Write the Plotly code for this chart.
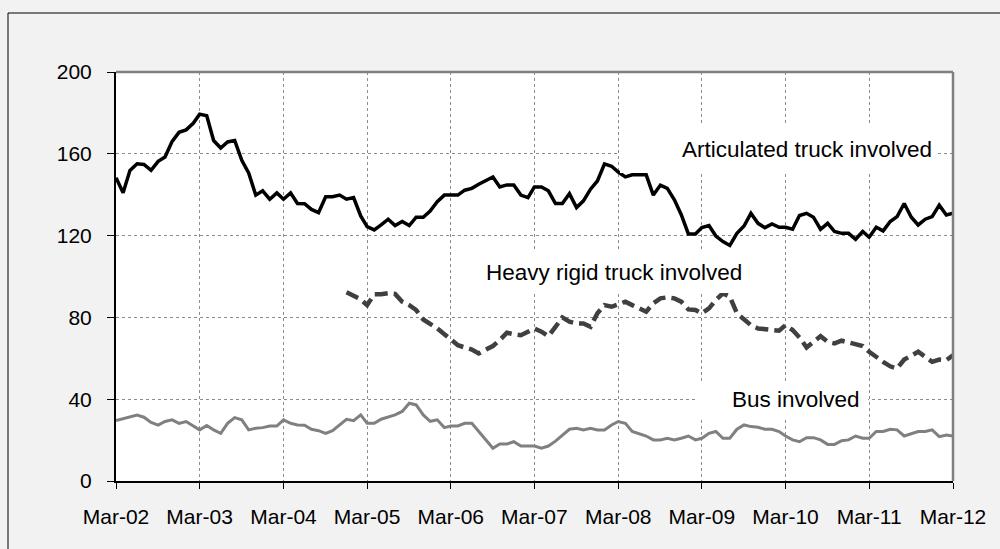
import pandas as pd
import plotly.graph_objects as go

months = pd.date_range("2002-03-01", "2012-03-01", freq="MS")

articulated = [
    148.3, 140.9, 151.9, 155.1, 154.8, 151.9, 156.3, 158.4, 166.1, 170.5, 171.7, 174.9,
    179.4, 178.6, 166.5, 162.8, 165.8, 166.5, 156.8, 150.6, 139.8, 141.9, 137.8, 140.9,
    137.8, 140.9, 135.7, 135.6, 132.8, 131.2, 139.0, 139.0, 139.8, 137.8, 138.6, 129.6,
    124.4, 122.8, 125.2, 128.0, 124.9, 126.9, 124.9, 129.0, 129.0, 132.0, 136.6, 139.8,
    139.8, 139.8, 142.2, 143.1, 145.1, 147.1, 148.7, 143.8, 144.8, 144.8, 139.8, 138.6,
    143.8, 143.8, 141.9, 135.7, 135.7, 140.5, 133.7, 137.0, 142.7, 146.7, 155.1, 153.9,
    151.1, 148.7, 149.7, 149.7, 149.7, 139.8, 144.7, 143.1, 137.5, 130.2, 120.8, 120.8,
    123.9, 124.9, 119.8, 117.1, 115.2, 121.1, 124.7, 130.9, 126.0, 123.9, 125.7, 124.1,
    124.1, 123.1, 129.8, 130.9, 129.0, 123.1, 126.0, 122.0, 121.1, 121.1, 118.2, 122.0,
    119.2, 124.1, 122.3, 126.9, 129.3, 135.7, 129.0, 125.2, 128.0, 129.3, 134.9, 130.1,
    130.9,
]

heavy_rigid = [None] * 33 + [
    92.3, 90.5, 88.8,
    86.0, 91.3, 91.3, 91.8, 91.5, 87.7, 86.0, 83.6, 79.0, 77.0, 74.6, 71.8,
    69.2, 66.4, 65.3, 64.3, 62.4, 64.0, 66.0, 68.9, 72.5, 71.8, 71.3, 73.0,
    74.6, 73.0, 70.8, 75.4, 80.0, 77.9, 77.0, 77.0, 75.4, 82.0, 86.0, 85.2,
    86.5, 87.7, 86.0, 84.4, 82.8, 86.9, 89.3, 89.8, 89.3, 87.7, 83.9, 83.6,
    82.0, 84.4, 88.5, 91.8, 90.1, 82.0, 78.7, 76.2, 74.6, 74.1, 74.1, 73.5,
    76.2, 73.8, 70.2, 65.3, 68.1, 70.8, 68.1, 67.3, 68.6, 67.6, 66.9, 66.0,
    63.2, 60.4, 58.3, 56.1, 55.0, 59.4, 61.5, 63.2, 60.7, 58.3, 59.4, 59.1,
    61.5,
]

bus = [
    29.5, 30.4, 31.2, 32.3, 31.2, 28.6, 27.3, 29.1, 29.9, 28.2, 29.1, 26.9,
    25.0, 27.1, 25.0, 23.3, 28.2, 31.0, 29.9, 25.0, 25.8, 26.1, 26.9, 26.9,
    29.9, 28.2, 27.4, 27.3, 25.3, 24.6, 23.3, 24.6, 27.4, 30.2, 29.5, 32.3,
    28.2, 28.2, 30.2, 31.2, 32.3, 34.0, 38.0, 37.2, 32.3, 29.2, 29.9, 26.1,
    26.9, 26.9, 28.2, 28.2, 24.1, 19.9, 16.0, 18.1, 18.1, 19.2, 17.1, 17.1,
    17.1, 16.0, 17.1, 19.5, 22.5, 25.3, 25.8, 25.0, 25.8, 25.0, 25.0, 27.4,
    29.1, 28.2, 24.2, 23.0, 22.0, 20.1, 20.1, 20.9, 20.1, 20.9, 22.0, 20.1,
    20.9, 23.3, 24.2, 20.9, 20.9, 25.3, 27.4, 26.6, 26.3, 25.3, 25.3, 24.2,
    22.0, 20.1, 19.2, 21.2, 21.2, 20.1, 17.9, 17.9, 19.7, 20.1, 22.0, 20.9,
    20.9, 24.2, 24.2, 25.3, 25.0, 22.0, 23.0, 24.2, 24.2, 25.0, 21.7, 22.5,
    22.0,
]

series_labels = ["Articulated truck involved", "Heavy rigid truck involved", "Bus involved"]
y_ticks = [0, 40, 80, 120, 160, 200]

W, H = 1000, 549
L, R, T, B = 116, 953, 72, 481
FONT = "Liberation Sans, Arial, sans-serif"


def px(x):
    return (x - L) / (R - L)


def py(y):
    return (B - y) / (B - T)


fig = go.Figure()
fig.add_trace(go.Scatter(x=months, y=bus, mode="lines",
                         line=dict(color="#808080", width=3), name=series_labels[2]))
fig.add_trace(go.Scatter(x=months, y=heavy_rigid, mode="lines",
                         line=dict(color="#404040", width=4.5, dash="13px,6px"),
                         name=series_labels[1]))
fig.add_trace(go.Scatter(x=months, y=articulated, mode="lines",
                         line=dict(color="#000000", width=3.5), name=series_labels[0]))

shapes = [
    # outer chart border (only left and top visible)
    dict(type="rect", xref="paper", yref="paper", x0=px(8), x1=px(1010), y0=py(560), y1=py(13),
         line=dict(color="#000000", width=1), fillcolor="rgba(0,0,0,0)", layer="below"),
    # white text boxes
    dict(type="rect", xref="paper", yref="paper", x0=px(620), x1=px(938), y0=py(173), y1=py(123),
         line=dict(width=0), fillcolor="white", layer="above"),
    dict(type="rect", xref="paper", yref="paper", x0=px(456), x1=px(766), y0=py(293), y1=py(250),
         line=dict(width=0), fillcolor="white", layer="above"),
    dict(type="rect", xref="paper", yref="paper", x0=px(695), x1=px(868), y0=py(417), y1=py(381),
         line=dict(width=0), fillcolor="white", layer="above"),
    # gray top and right plot borders
    dict(type="line", xref="paper", yref="paper", x0=0, x1=1, y0=1, y1=1,
         line=dict(color="#808080", width=2.5), layer="above"),
    dict(type="line", xref="paper", yref="paper", x0=1, x1=1, y0=0, y1=1,
         line=dict(color="#808080", width=2.5), layer="above"),
]

annotations = [
    dict(text=series_labels[0], xref="paper", yref="paper", x=px(807), y=py(149),
         showarrow=False, font=dict(size=22.5, color="#000000", family=FONT),
         xanchor="center", yanchor="middle"),
    dict(text=series_labels[1], xref="paper", yref="paper", x=px(614), y=py(272),
         showarrow=False, font=dict(size=22.5, color="#000000", family=FONT),
         xanchor="center", yanchor="middle"),
    dict(text=series_labels[2], xref="paper", yref="paper", x=px(796), y=py(399),
         showarrow=False, font=dict(size=22.5, color="#000000", family=FONT),
         xanchor="center", yanchor="middle"),
]

fig.update_layout(
    width=W, height=H,
    margin=dict(l=L, r=W - R, t=T, b=H - B, pad=0),
    paper_bgcolor="#f2f2f2",
    plot_bgcolor="#ffffff",
    showlegend=False,
    font=dict(family=FONT, size=21, color="#000000"),
    shapes=shapes,
    annotations=annotations,
    xaxis=dict(
        type="date",
        range=[months[0], months[-1]],
        tick0=months[0], dtick="M12", tickformat="%b-%y",
        ticks="outside", ticklen=6, tickcolor="#000000", tickwidth=1,
        showline=True, linecolor="#000000", linewidth=2,
        showgrid=True, gridcolor="#8c8c8c", gridwidth=1, griddash="dot",
        zeroline=False,
        tickfont=dict(size=21, family=FONT, color="#000000"),
        ticklabelstandoff=10,
    ),
    yaxis=dict(
        range=[0, 200], tickvals=y_ticks,
        ticks="outside", ticklen=7, tickcolor="#000000", tickwidth=1,
        showline=True, linecolor="#000000", linewidth=2,
        showgrid=True, gridcolor="#8c8c8c", gridwidth=1, griddash="dot",
        zeroline=False,
        tickfont=dict(size=21, family=FONT, color="#000000"),
        ticklabelstandoff=11,
    ),
)

fig.write_html(
    "out.html",
    config={"displayModeBar": False},
    post_script="document.body.style.margin='0';document.body.style.overflow='hidden';",
)
